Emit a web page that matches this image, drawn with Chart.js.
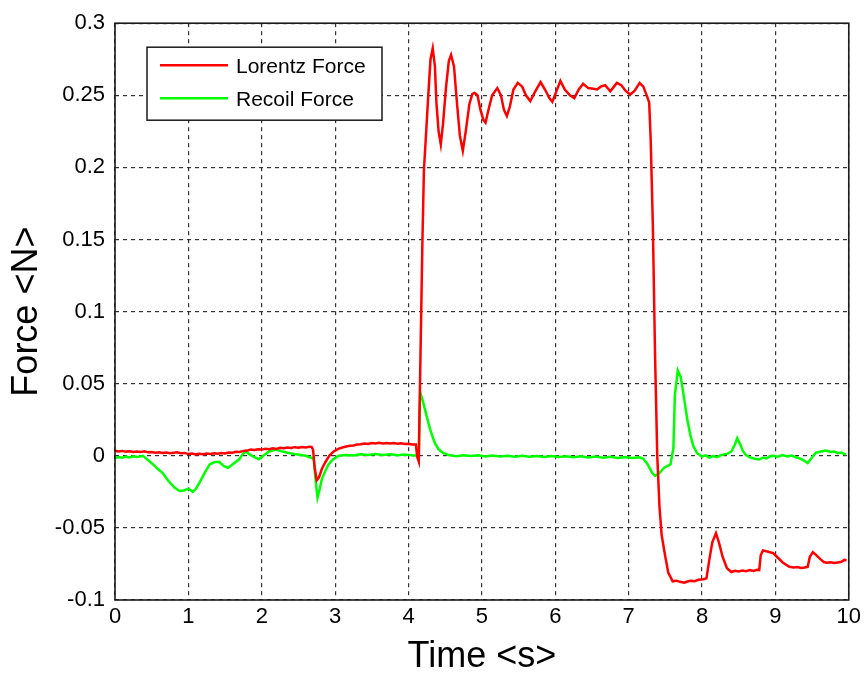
<!DOCTYPE html>
<html>
<head>
<meta charset="utf-8">
<title>Force vs Time</title>
<script src="https://cdn.jsdelivr.net/npm/chart.js@4/dist/chart.umd.min.js"></script>
<style>
  html, body { margin: 0; padding: 0; background: #ffffff; }
  #wrap { width: 865px; height: 675px; }
</style>
</head>
<body>
<div id="wrap"><canvas id="chart" width="865" height="675"></canvas></div>
<script>
// Lorentz force measurement: sample times (s) and force (N)
const lorentzTime = [
  0.00, 0.05, 0.10, 0.15, 0.20, 0.25, 0.30, 0.35, 0.40, 0.45,
  0.50, 0.55, 0.60, 0.65, 0.70, 0.75, 0.80, 0.85, 0.90, 0.95,
  1.00, 1.05, 1.10, 1.15, 1.20, 1.25, 1.30, 1.35, 1.40, 1.45,
  1.50, 1.55, 1.60, 1.65, 1.70, 1.75, 1.80, 1.85, 1.90, 1.95,
  2.00, 2.05, 2.10, 2.15, 2.20, 2.25, 2.30, 2.35, 2.40, 2.45,
  2.50, 2.55, 2.60, 2.65, 2.68, 2.70, 2.72, 2.75, 2.78, 2.82,
  2.87, 2.92, 2.98, 3.05, 3.10, 3.15, 3.20, 3.25, 3.30, 3.35,
  3.40, 3.45, 3.50, 3.55, 3.60, 3.65, 3.70, 3.75, 3.80, 3.85,
  3.90, 3.95, 4.00, 4.05, 4.10, 4.12, 4.14, 4.15, 4.17, 4.19,
  4.21, 4.24, 4.27, 4.30, 4.33, 4.36, 4.38, 4.41, 4.44, 4.47,
  4.51, 4.55, 4.58, 4.62, 4.66, 4.70, 4.74, 4.78, 4.83, 4.87,
  4.90, 4.94, 4.98, 5.02, 5.05, 5.09, 5.14, 5.21, 5.26, 5.30,
  5.34, 5.38, 5.43, 5.49, 5.55, 5.60, 5.66, 5.72, 5.80, 5.86,
  5.92, 5.96, 6.01, 6.07, 6.13, 6.20, 6.26, 6.32, 6.38, 6.45,
  6.52, 6.57, 6.62, 6.68, 6.75, 6.80, 6.84, 6.90, 6.96, 7.02,
  7.08, 7.15, 7.20, 7.25, 7.28, 7.30, 7.33, 7.36, 7.39, 7.42,
  7.45, 7.50, 7.54, 7.60, 7.65, 7.70, 7.76, 7.80, 7.85, 7.90,
  7.95, 8.02, 8.06, 8.10, 8.14, 8.19, 8.23, 8.28, 8.34, 8.40,
  8.45, 8.50, 8.55, 8.60, 8.65, 8.70, 8.75, 8.78, 8.80, 8.83,
  8.90, 8.97, 9.02, 9.10, 9.19, 9.25, 9.30, 9.35, 9.40, 9.44,
  9.47, 9.51, 9.56, 9.62, 9.66, 9.70, 9.75, 9.80, 9.85, 9.90,
  9.94, 9.97
];
const lorentzForce = [
  0.0035, 0.0030, 0.0034, 0.0029, 0.0031, 0.0026, 0.0030, 0.0027, 0.0031, 0.0024,
  0.0027, 0.0022, 0.0025, 0.0019, 0.0022, 0.0017, 0.0021, 0.0025, 0.0017, 0.0020,
  0.0012, 0.0015, 0.0010, 0.0014, 0.0011, 0.0016, 0.0012, 0.0017, 0.0014, 0.0019,
  0.0016, 0.0023, 0.0021, 0.0028, 0.0026, 0.0034, 0.0036, 0.0043, 0.0040, 0.0046,
  0.0043, 0.0049, 0.0046, 0.0052, 0.0048, 0.0055, 0.0052, 0.0058, 0.0054, 0.0060,
  0.0056, 0.0061, 0.0058, 0.0063, 0.0062, 0.0040, -0.0080, -0.0170, -0.0150, -0.0090,
  -0.0040, 0.0000, 0.0030, 0.0050, 0.0058, 0.0064, 0.0069, 0.0072, 0.0078, 0.0080,
  0.0085, 0.0082, 0.0088, 0.0085, 0.0090, 0.0086, 0.0089, 0.0085, 0.0088, 0.0083,
  0.0087, 0.0082, 0.0084, 0.0079, 0.0078, -0.0010, -0.0040, 0.0300, 0.0900, 0.1500,
  0.1980, 0.2240, 0.2505, 0.2750, 0.2826, 0.2700, 0.2450, 0.2250, 0.2160, 0.2300,
  0.2550, 0.2740, 0.2780, 0.2700, 0.2450, 0.2220, 0.2115, 0.2250, 0.2440, 0.2510,
  0.2517, 0.2500, 0.2400, 0.2330, 0.2310, 0.2400, 0.2500, 0.2550, 0.2500, 0.2400,
  0.2356, 0.2420, 0.2540, 0.2586, 0.2560, 0.2500, 0.2460, 0.2520, 0.2592, 0.2540,
  0.2480, 0.2455, 0.2520, 0.2600, 0.2540, 0.2500, 0.2480, 0.2540, 0.2580, 0.2550,
  0.2545, 0.2540, 0.2560, 0.2570, 0.2528, 0.2560, 0.2586, 0.2570, 0.2530, 0.2505,
  0.2530, 0.2586, 0.2560, 0.2494, 0.2450, 0.2200, 0.1600, 0.0700, 0.0000, -0.0350,
  -0.0550, -0.0700, -0.0810, -0.0870, -0.0866, -0.0874, -0.0880, -0.0872, -0.0866, -0.0870,
  -0.0860, -0.0856, -0.0850, -0.0720, -0.0600, -0.0537, -0.0600, -0.0700, -0.0780, -0.0806,
  -0.0798, -0.0802, -0.0795, -0.0800, -0.0792, -0.0798, -0.0790, -0.0792, -0.0690, -0.0656,
  -0.0665, -0.0675, -0.0700, -0.0740, -0.0770, -0.0775, -0.0772, -0.0778, -0.0774, -0.0770,
  -0.0700, -0.0668, -0.0690, -0.0720, -0.0737, -0.0742, -0.0738, -0.0744, -0.0740, -0.0735,
  -0.0722, -0.0725
];

// Recoil force measurement: sample times (s) and force (N)
const recoilTime = [
  0.00, 0.05, 0.10, 0.15, 0.20, 0.25, 0.30, 0.38, 0.45, 0.52,
  0.58, 0.65, 0.72, 0.81, 0.88, 0.94, 1.00, 1.06, 1.10, 1.15,
  1.22, 1.29, 1.35, 1.42, 1.48, 1.54, 1.60, 1.69, 1.74, 1.78,
  1.85, 1.92, 1.96, 2.02, 2.10, 2.19, 2.28, 2.37, 2.47, 2.60,
  2.68, 2.71, 2.73, 2.76, 2.79, 2.82, 2.87, 2.91, 2.97, 3.05,
  3.15, 3.25, 3.35, 3.45, 3.55, 3.65, 3.75, 3.85, 3.95, 4.05,
  4.12, 4.14, 4.15, 4.16, 4.19, 4.22, 4.26, 4.29, 4.33, 4.36,
  4.41, 4.47, 4.55, 4.65, 4.75, 4.85, 4.95, 5.05, 5.15, 5.25,
  5.35, 5.45, 5.55, 5.65, 5.75, 5.85, 5.95, 6.05, 6.15, 6.25,
  6.35, 6.45, 6.55, 6.65, 6.75, 6.85, 6.95, 7.05, 7.15, 7.20,
  7.26, 7.32, 7.36, 7.42, 7.48, 7.57, 7.61, 7.63, 7.67, 7.71,
  7.74, 7.77, 7.80, 7.84, 7.88, 7.93, 8.00, 8.05, 8.10, 8.15,
  8.20, 8.25, 8.29, 8.35, 8.40, 8.45, 8.48, 8.52, 8.56, 8.60,
  8.65, 8.72, 8.78, 8.83, 8.88, 8.93, 8.97, 9.03, 9.10, 9.16,
  9.22, 9.28, 9.33, 9.38, 9.44, 9.50, 9.55, 9.62, 9.69, 9.75,
  9.80, 9.85, 9.90, 9.96
];
const recoilForce = [
  -0.0015, -0.0008, -0.0014, -0.0006, -0.0012, -0.0004, -0.0009, 0.0000, -0.0030, -0.0060,
  -0.0090, -0.0120, -0.0170, -0.0220, -0.0244, -0.0240, -0.0228, -0.0250, -0.0230, -0.0187,
  -0.0120, -0.0060, -0.0045, -0.0042, -0.0070, -0.0084, -0.0060, -0.0026, 0.0010, 0.0030,
  0.0005, -0.0015, -0.0024, 0.0000, 0.0030, 0.0043, 0.0030, 0.0020, 0.0010, 0.0000,
  -0.0015, -0.0024, -0.0150, -0.0290, -0.0230, -0.0160, -0.0100, -0.0060, -0.0025, 0.0000,
  0.0006, 0.0002, 0.0010, 0.0005, 0.0012, 0.0006, 0.0010, 0.0004, 0.0009, 0.0003,
  0.0000, 0.0010, 0.0300, 0.0439, 0.0390, 0.0330, 0.0250, 0.0190, 0.0130, 0.0088,
  0.0045, 0.0020, 0.0005, -0.0003, 0.0004, -0.0002, 0.0003, -0.0004, 0.0002, -0.0005,
  0.0001, -0.0006, 0.0000, -0.0007, -0.0001, -0.0008, -0.0002, -0.0009, -0.0003, -0.0010,
  -0.0004, -0.0011, -0.0005, -0.0013, -0.0007, -0.0015, -0.0009, -0.0016, -0.0011, -0.0020,
  -0.0060, -0.0118, -0.0140, -0.0120, -0.0084, -0.0060, 0.0054, 0.0420, 0.0592, 0.0546,
  0.0450, 0.0350, 0.0250, 0.0146, 0.0070, 0.0020, -0.0005, 0.0003, -0.0012, -0.0002,
  -0.0010, 0.0002, 0.0008, 0.0015, 0.0030, 0.0080, 0.0122, 0.0080, 0.0030, 0.0005,
  -0.0010, -0.0020, -0.0026, -0.0012, -0.0018, -0.0002, 0.0000, -0.0006, 0.0005, -0.0004,
  0.0002, -0.0010, -0.0018, -0.0030, -0.0050, -0.0010, 0.0020, 0.0030, 0.0036, 0.0026,
  0.0030, 0.0018, 0.0022, 0.0008
];

const seriesNames = ['Lorentz Force', 'Recoil Force'];
const xTickValues = [0, 1, 2, 3, 4, 5, 6, 7, 8, 9, 10];
const xTickLabels = ['0', '1', '2', '3', '4', '5', '6', '7', '8', '9', '10'];
const yTickValues = [-0.1, -0.05, 0, 0.05, 0.1, 0.15, 0.2, 0.25, 0.3];
const yTickLabels = ['-0.1', '-0.05', '0', '0.05', '0.1', '0.15', '0.2', '0.25', '0.3'];

const toPoints = (xs, ys) => xs.map((x, i) => ({ x: x, y: ys[i] }));

const tickFont = { family: "'Liberation Sans Narrow', 'Arial Narrow', 'Liberation Sans', Arial, sans-serif", size: 22 };
const titleFont = { family: "'Liberation Sans', Arial, sans-serif", size: 36 };

// Frame around the plot area plus an in-plot legend box
const framePlugin = {
  id: 'frameAndLegend',
  afterDatasetsDraw(chart) {
    const { ctx, chartArea: a } = chart;
    ctx.save();
    ctx.strokeStyle = '#1a1a1a';
    ctx.lineWidth = 1.6;
    ctx.setLineDash([]);
    ctx.strokeRect(a.left, a.top, a.right - a.left, a.bottom - a.top);

    // legend
    const bx = a.left + 32, by = a.top + 24, bw = 235, bh = 73;
    ctx.fillStyle = '#ffffff';
    ctx.fillRect(bx, by, bw, bh);
    ctx.strokeStyle = '#1a1a1a';
    ctx.lineWidth = 1.5;
    ctx.strokeRect(bx, by, bw, bh);
    ctx.font = "21px 'Liberation Sans', Arial, sans-serif";
    ctx.textBaseline = 'middle';
    ctx.textAlign = 'left';
    chart.data.datasets.forEach((ds, i) => {
      const yy = by + 18 + i * 33;
      ctx.strokeStyle = ds.borderColor;
      ctx.lineWidth = 2.5;
      ctx.beginPath();
      ctx.moveTo(bx + 13, yy);
      ctx.lineTo(bx + 81, yy);
      ctx.stroke();
      ctx.fillStyle = '#000000';
      ctx.fillText(ds.label, bx + 89, yy + 2);
    });
    ctx.restore();
  }
};

new Chart(document.getElementById('chart'), {
  type: 'line',
  data: {
    datasets: [
      {
        label: seriesNames[0],
        data: toPoints(lorentzTime, lorentzForce),
        borderColor: '#ff0000',
        borderWidth: 2.5,
        pointRadius: 0,
        tension: 0,
        fill: false
      },
      {
        label: seriesNames[1],
        data: toPoints(recoilTime, recoilForce),
        borderColor: '#00ff00',
        borderWidth: 2.5,
        pointRadius: 0,
        tension: 0,
        fill: false
      }
    ]
  },
  options: {
    responsive: false,
    animation: false,
    layout: { padding: { top: 20, right: 12, left: 0, bottom: 0 } },
    plugins: { legend: { display: false }, tooltip: { enabled: false } },
    scales: {
      x: {
        type: 'linear',
        min: 0,
        max: 10,
        afterBuildTicks: (s) => { s.ticks = xTickValues.map(v => ({ value: v })); },
        afterFit: (s) => { s.height = 75; },
        ticks: {
          color: '#000000',
          font: tickFont,
          padding: 4,
          maxRotation: 0,
          callback: (v, i) => xTickLabels[i]
        },
        grid: { color: '#333333', lineWidth: 1.2, drawTicks: false },
        border: { display: false, dash: [4, 4] },
        title: { display: true, text: 'Time <s>', color: '#000000', font: titleFont, padding: { top: 0, bottom: -4 } }
      },
      y: {
        type: 'linear',
        min: -0.1,
        max: 0.3,
        afterBuildTicks: (s) => { s.ticks = yTickValues.map(v => ({ value: v })); },
        afterFit: (s) => { s.width = 115; },
        ticks: {
          color: '#000000',
          font: tickFont,
          padding: 10,
          callback: (v, i) => yTickLabels[i]
        },
        grid: { color: '#333333', lineWidth: 1.2, drawTicks: false },
        border: { display: false, dash: [4, 4] },
        title: { display: true, text: 'Force <N>', color: '#000000', font: titleFont, padding: { top: 5, bottom: 0 } }
      }
    }
  },
  plugins: [framePlugin]
});
</script>
</body>
</html>
